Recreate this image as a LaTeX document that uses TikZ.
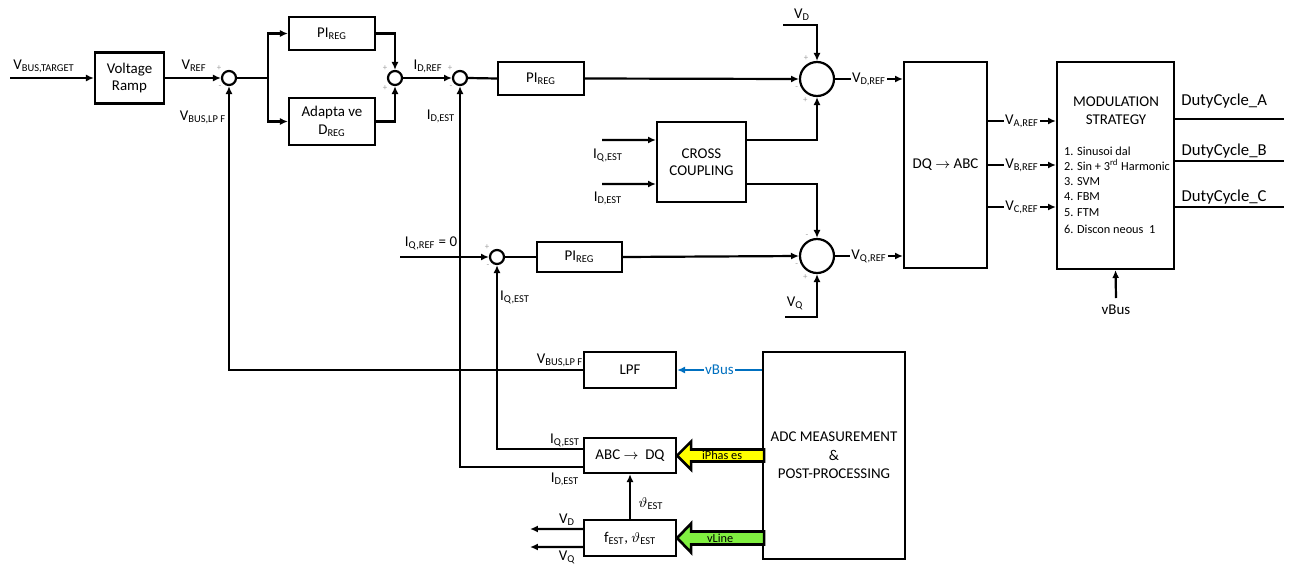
\documentclass[tikz,border=0pt]{standalone}
\usepackage{fontspec}
\setmainfont{Carlito}
\usetikzlibrary{arrows.meta,positioning,calc}
\definecolor{vbusblue}{HTML}{0070C0}
\definecolor{phyellow}{HTML}{FFFF00}
\definecolor{linegreen}{HTML}{80F040}
\definecolor{signgray}{HTML}{A0A0A0}
\newcommand{\sbs}[1]{\textsubscript{#1}}

\begin{document}
\begin{tikzpicture}[x=0.2cm, y=-0.2cm, line width=1.25pt,
  font=\fontsize{8.5}{10}\selectfont,
  blk/.style={draw, align=center, inner sep=1pt},
  sum/.style={draw, circle, inner sep=0pt, minimum size=0.28cm},
  bigsum/.style={draw, circle, inner sep=0pt, minimum size=0.68cm},
  sgn/.style={text=signgray, font=\fontsize{5}{5}\selectfont, inner sep=0.5pt},
  arr/.style={-{Latex[length=4.5pt,width=4pt]}},
  tag/.style={fill=white, inner sep=0.8pt},
  duty/.style={font=\fontsize{9.5}{11}\selectfont, pos=0.45},
  fat/.style={draw, line width=1.5pt, line join=miter}]
  \useasboundingbox (0,0) rectangle (129.1,56.5);

  % outer voltage loop
  \node[blk, minimum width=1.38cm, minimum height=1.02cm] (ramp) at (12.95,7.8) {Voltage\\Ramp};
  \node[sum, label={[sgn]135:+}, label={[sgn]225:-}] (sumv) at (22.9,7.8) {};
  \node[blk, minimum width=1.72cm, minimum height=0.66cm] (pireg) at (33.2,3.35) {PI\sbs{REG}};
  \node[blk, minimum width=1.72cm, minimum height=0.94cm] (adapt) at (33.2,12.15) {Adapta ve\\D\sbs{REG}};
  \node[sum, label={[sgn]135:+}, label={[sgn]225:+}] (sumi) at (39.5,7.8) {};

  % current loops
  \node[sum, label={[sgn]135:+}, label={[sgn]225:-}] (sumd) at (46.0,7.8) {};
  \node[blk, minimum width=1.72cm, minimum height=0.66cm] (pid) at (54.1,7.85) {PI\sbs{REG}};
  \node[bigsum, label={[sgn]112:+}, label={[sgn]200:-}, label={[sgn]245:+}] (sumvd) at (81.7,7.9) {};
  \node[blk, minimum width=1.78cm, minimum height=1.6cm] (cross) at (70.15,16.2) {CROSS\\COUPLING};
  \node[sum, label={[sgn]135:+}, label={[sgn]225:-}] (sumq) at (49.7,25.7) {};
  \node[blk, minimum width=1.7cm, minimum height=0.6cm] (piq) at (57.95,25.7) {PI\sbs{REG}};
  \node[bigsum, label={[sgn]112:-}, label={[sgn]200:-}, label={[sgn]245:+}] (sumvq) at (81.7,25.6) {};

  % transformation and modulation
  \node[blk, minimum width=1.66cm, minimum height=4.12cm] (dqabc) at (94.55,16.5) {DQ $\rightarrow$ ABC};
  \node[draw, minimum width=2.34cm, minimum height=4.14cm] (modul) at (111.55,16.55) {};
  \node[align=center, inner sep=0pt] (modt) at (111.6,11.05) {MODULATION\\STRATEGY};
  \node[anchor=north west, align=left, inner sep=0pt, font=\fontsize{7}{8.6}\selectfont] (modlist) at (106.3,14.6)
    {1. Sinusoi dal\\2. Sin + 3\textsuperscript{rd} Harmonic\\3. SVM\\4. FBM\\5. FTM\\[1.5pt]6. Discon neous\ \ 1};

  % measurement side
  \node[blk, minimum width=1.84cm, minimum height=0.72cm] (lpf) at (63,37) {LPF};
  \node[blk, minimum width=1.84cm, minimum height=0.7cm] (abcdq) at (63,45.55) {ABC $\rightarrow$\ \ DQ};
  \node[blk, minimum width=1.84cm, minimum height=0.72cm] (fest) at (63,53.8) {f\sbs{EST}, $\vartheta$\sbs{EST}};
  \node[blk, minimum width=2.84cm, minimum height=4.14cm, font=\fontsize{8.5}{10.5}\selectfont] (adc) at (83.4,45.55)
    {ADC MEASUREMENT\\\&\\POST-PROCESSING};

  % free ends
  \coordinate (vbt) at (1.0,7.8);
  \coordinate (split) at (26.8,7.8);
  \coordinate (vdin) at (78.3,2.5);
  \coordinate (iqx) at (60.2,14.0);
  \coordinate (idx) at (60.2,18.4);
  \coordinate (iqref) at (40.0,25.7);
  \coordinate (vqin) at (78.5,31.7);
  \coordinate (vbusin) at (111.6,29.8);
  \coordinate (dcend) at (128.4,0);
  \coordinate (vdout) at (53.0,52.9);
  \coordinate (vqout) at (53.0,54.7);
  \coordinate (va) at ([yshift=0.88cm]dqabc.east);
  \coordinate (vb) at (dqabc.east);
  \coordinate (vc) at ([yshift=-0.84cm]dqabc.east);
  \coordinate (dca) at ([yshift=0.93cm]modul.east);
  \coordinate (dcb) at ([yshift=0.09cm]modul.east);
  \coordinate (dcc) at ([yshift=-0.83cm]modul.east);
  \coordinate (iqo) at ([yshift=0.13cm]abcdq.west);
  \coordinate (ido) at ([yshift=-0.23cm]abcdq.west);

  % connectors
  \draw[arr] (vbt) -- (ramp.west);
  \draw[arr] (ramp.east) -- (sumv.west);
  \draw (sumv.east) -- (split);
  \draw[arr] (split) |- (pireg.west);
  \draw[arr] (split) |- (adapt.west);
  \draw[arr] (pireg.east) -| (sumi.north);
  \draw[arr] (adapt.east) -| (sumi.south);
  \draw[arr] (sumi.east) -- (sumd.west);
  \draw (sumd.east) -- (pid.west);
  \draw[arr] (pid.east) -- (sumvd.west);
  \draw[arr] (vdin) -| (sumvd.north);
  \draw[arr] ([yshift=0.44cm]cross.east) -| (sumvd.south);
  \draw[arr] ([yshift=-0.44cm]cross.east) -| (sumvq.north);
  \draw[arr] (iqx) -- ([yshift=0.44cm]cross.west);
  \draw[arr] (idx) -- ([yshift=-0.44cm]cross.west);
  \draw[arr] (iqref) -- (sumq.west);
  \draw (sumq.east) -- (piq.west);
  \draw[arr] (piq.east) -- (sumvq.west);
  \draw[arr] (vqin) -| (sumvq.south);
  \draw[arr] (sumvd.east) -- node[tag] {V\sbs{D,REF}} (sumvd.east -| dqabc.west);
  \draw[arr] (sumvq.east) -- node[tag] {V\sbs{Q,REF}} (sumvq.east -| dqabc.west);
  \draw[arr] (va) -- node[tag] {V\sbs{A,REF}} (va -| modul.west);
  \draw[arr] (vb) -- node[tag] {V\sbs{B,REF}} (vb -| modul.west);
  \draw[arr] (vc) -- node[tag] {V\sbs{C,REF}} (vc -| modul.west);
  \draw (dca) -- node[duty, above=2pt] {DutyCycle\_A} (dca -| dcend);
  \draw (dcb) -- node[duty, above=-2.5pt] {DutyCycle\_B} (dcb -| dcend);
  \draw (dcc) -- node[duty, above=-2.5pt] {DutyCycle\_C} (dcc -| dcend);
  \draw[arr] (vbusin) node[below] {vBus} -- (modul.south);
  \draw[arr, vbusblue, line width=0.9pt] (lpf.east -| adc.west) -- node[tag, text=vbusblue] {vBus} (lpf.east);
  \draw[arr] (lpf.west) -| (sumv.south);
  \draw[arr] (iqo) -| (sumq.south);
  \draw[arr] (ido) -| (sumd.south);
  \draw[arr] (fest.north) -- node[right=1pt, pos=0.35] {$\vartheta$\sbs{EST}} (abcdq.south);
  \draw[arr] ([yshift=0.18cm]fest.west) -- node[above=-2pt, pos=0.3] {V\sbs{D}} (vdout);
  \draw[arr] ([yshift=-0.18cm]fest.west) -- node[below=-1.5pt, pos=0.3] {V\sbs{Q}} (vqout);

  % fat arrows from the ADC block
  \draw[fat, fill=phyellow] (abcdq.east) -- ++(1.4,-1.4) -- ++(0,0.8) -- ++(7.3,0) -- ++(0,1.2) -- ++(-7.3,0) -- ++(0,0.8) -- cycle;
  \node[font=\fontsize{7}{8}\selectfont, inner sep=0pt] (iph) at ([xshift=0.9cm]abcdq.east) {iPhas es};
  \draw[fat, fill=linegreen] (fest.east) -- ++(1.4,-1.45) -- ++(0,0.8) -- ++(7.3,0) -- ++(0,1.3) -- ++(-7.3,0) -- ++(0,0.8) -- cycle;
  \node[font=\fontsize{7}{8}\selectfont, inner sep=0pt] (vln) at ([xshift=0.86cm]fest.east) {vLine};

  % signal labels
  \node (tvbt) at (4.4,6.6) {V\sbs{BUS,TARGET}};
  \node (tvref) at (19.4,6.6) {V\sbs{REF}};
  \node (tvlpfa) at (20.3,11.7) {V\sbs{BUS,LP F}};
  \node (tidref) at (42.8,6.6) {I\sbs{D,REF}};
  \node (tidesta) at (44.1,11.6) {I\sbs{D,EST}};
  \node (tvd) at (80.2,1.5) {V\sbs{D}};
  \node (tiqestb) at (60.8,15.5) {I\sbs{Q,EST}};
  \node (tidestb) at (60.8,19.8) {I\sbs{D,EST}};
  \node (tiqref) at (43.1,24.3) {I\sbs{Q,REF} = 0};
  \node (tiqesta) at (51.5,29.7) {I\sbs{Q,EST}};
  \node (tvq) at (79.5,30.3) {V\sbs{Q}};
  \node (tvlpfb) at (56.0,36.0) {V\sbs{BUS,LP F}};
  \node (tiqestc) at (56.5,44.0) {I\sbs{Q,EST}};
  \node (tidestc) at (56.5,47.9) {I\sbs{D,EST}};
\end{tikzpicture}
\end{document}
